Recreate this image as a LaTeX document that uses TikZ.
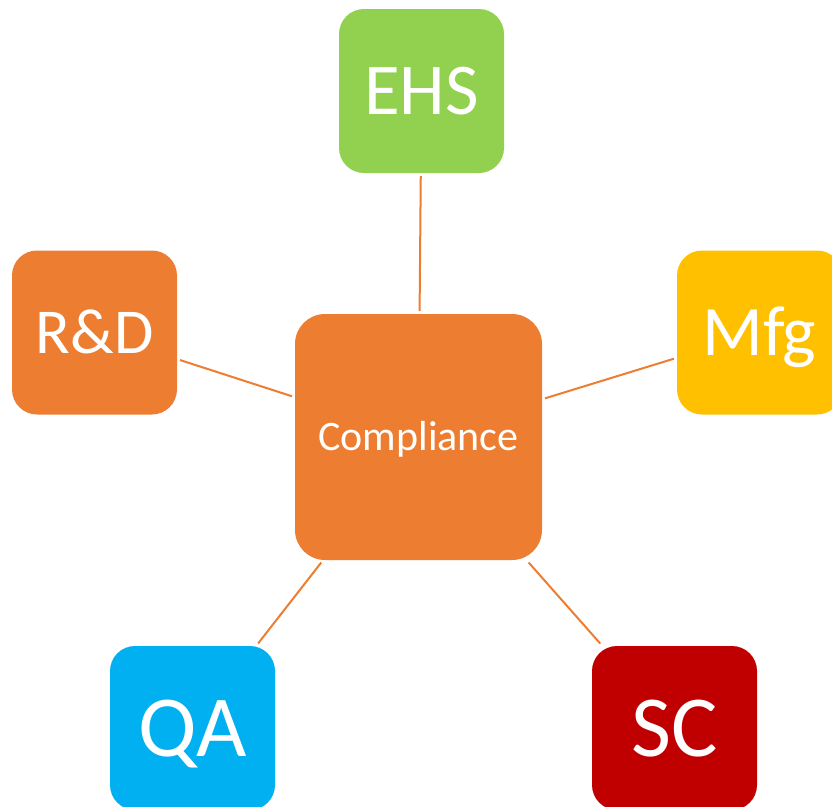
\documentclass[tikz,border=0pt]{standalone}
\usepackage{fontspec}
\setmainfont{Carlito}
\definecolor{ehsgreen}{HTML}{92D050}
\definecolor{boxorange}{HTML}{ED7D31}
\definecolor{mfggold}{HTML}{FFC000}
\definecolor{qacyan}{HTML}{00B0F0}
\definecolor{scred}{HTML}{C00000}
\begin{document}
\begin{tikzpicture}[x=1pt, y=-1pt,
  every node/.style={rectangle, draw=none, text=white, inner sep=0pt, text depth=0pt},
  dept/.style={minimum width=165pt, minimum height=164pt, rounded corners=25pt},
  link/.style={draw=boxorange, line width=2pt, shorten <=3pt, shorten >=3pt}]

  \useasboundingbox (0,0) rectangle (832,806);
  \clip (0,0) rectangle (832,806);

  % centre
  \node (cmp) at (418.5, 437) [fill=boxorange, minimum width=247pt, minimum height=246pt,
    rounded corners=30pt, font=\fontsize{42}{48}\selectfont, text height=27pt] {Compliance};

  % departments
  \node (ehs) at (421.5, 91) [dept, fill=ehsgreen, font=\fontsize{73}{80}\selectfont, text height=47pt] {EHS};
  \node (rd) at (94.5, 332.5) [dept, fill=boxorange, font=\fontsize{64}{70}\selectfont, text height=41pt] {R\&D};
  \node (mfg) at (759.5, 332.5) [dept, fill=mfggold, font=\fontsize{71}{78}\selectfont, text height=45pt] {Mfg};
  \node (qa) at (192.5, 728) [dept, fill=qacyan, font=\fontsize{87}{95}\selectfont, text height=56pt] {QA};
  \node (sc) at (674.5, 728) [dept, fill=scred, font=\fontsize{87}{95}\selectfont, text height=56pt] {SC};

  % links
  \draw[link] (cmp) -- (ehs);
  \draw[link] (cmp) -- (rd);
  \draw[link] (cmp) -- (mfg);
  \draw[link] (cmp) -- (qa);
  \draw[link] (cmp) -- (sc);

\end{tikzpicture}
\end{document}
